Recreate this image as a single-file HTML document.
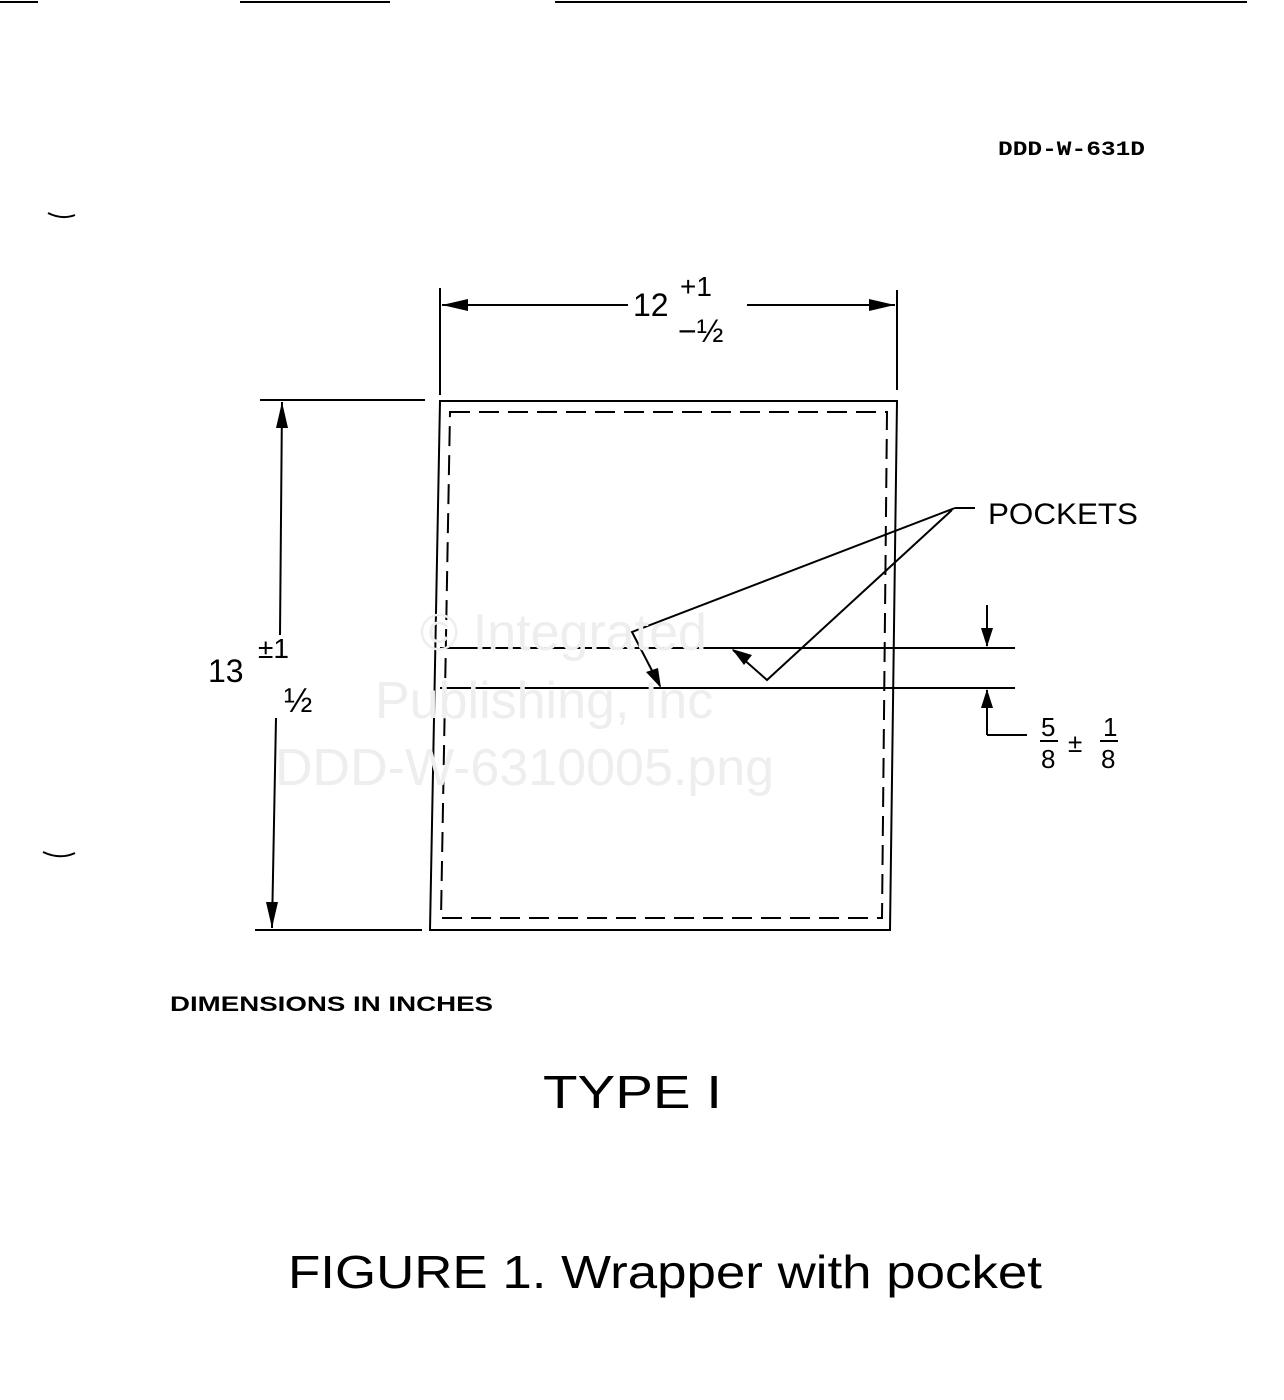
<!DOCTYPE html>
<html><head><meta charset="utf-8"><style>
html,body{margin:0;padding:0;background:#fff;}
svg{display:block;}
text{font-family:"Liberation Sans",sans-serif;fill:#000;}
</style></head><body>
<svg width="1284" height="1400" viewBox="0 0 1284 1400" xmlns="http://www.w3.org/2000/svg">
<g stroke="#000" stroke-width="2" fill="none">
<line x1="0" y1="2" x2="38" y2="2"/><line x1="240" y1="2" x2="390" y2="2"/><line x1="555" y1="2" x2="1247" y2="2"/>
<path d="M48 213 Q62 220 75 215"/><path d="M43 852 Q60 860 75 853"/>
<line x1="440" y1="288" x2="440" y2="395"/><line x1="897" y1="290" x2="897" y2="390"/>
<line x1="442" y1="305" x2="628" y2="305"/><line x1="747" y1="305" x2="895" y2="305"/>
<path d="M440 401 L897 401 L890 930 L430 930 Z"/>
<path d="M450 412 L887 412 L882 918 L441 918 Z" stroke-dasharray="20 9"/>
<line x1="260" y1="400" x2="425" y2="400"/><line x1="255" y1="930" x2="422" y2="930"/>
<line x1="282" y1="402" x2="280" y2="635"/><line x1="276" y1="718" x2="272" y2="928"/>
<line x1="440" y1="648" x2="1015" y2="648"/><line x1="440" y1="688" x2="1015" y2="688"/>
<line x1="987" y1="605" x2="987" y2="646"/>
<line x1="987" y1="690" x2="987" y2="735"/><line x1="987" y1="735" x2="1027" y2="735"/>
<polyline points="955,508 632,632 660,686"/>
<polyline points="952,510 767,680 733,650"/>
<line x1="955" y1="508" x2="975" y2="508"/>
<line x1="1040" y1="741" x2="1058" y2="741"/><line x1="1100" y1="741" x2="1118" y2="741"/>
</g>
<g fill="#000">
<polygon points="442,305 468,299 468,311"/><polygon points="895,305 869,299 869,311"/>
<polygon points="282,402 276,428 288,428"/><polygon points="272,928 266,902 278,902"/>
<polygon points="987,647 981,628 993,628"/><polygon points="987,689 981,708 993,708"/>
<polygon points="661,688 646,672 658,668"/><polygon points="732,649 752,655 744,665"/>
</g>
<text x="998" y="155" style="font-family:'Liberation Mono',monospace" font-weight="bold" font-size="20" textLength="147" lengthAdjust="spacingAndGlyphs">DDD-W-631D</text>
<text x="633" y="316" font-size="32">12</text>
<text x="680" y="296" font-size="28">+1</text>
<text x="678" y="342" font-size="32">−½</text>
<text x="208" y="682" font-size="32">13</text>
<text x="258" y="658" font-size="28">±1</text>
<text x="284" y="712" font-size="34">½</text>
<text x="988" y="524" font-size="30" textLength="150" lengthAdjust="spacingAndGlyphs">POCKETS</text>
<text x="1041" y="736" font-size="26">5</text><text x="1041" y="768" font-size="26">8</text>
<text x="1068" y="752" font-size="26">±</text>
<text x="1103" y="736" font-size="26">1</text><text x="1101" y="768" font-size="26">8</text>
<g font-size="52">
<text x="420" y="650" style="fill:#eeeeee">© Integrated</text>
<text x="375" y="718" style="fill:#eeeeee">Publishing, Inc</text>
<text x="275" y="785" style="fill:#eeeeee">DDD-W-6310005.png</text>
</g>
<text x="170" y="1011" font-size="21" font-weight="bold" textLength="323" lengthAdjust="spacingAndGlyphs">DIMENSIONS IN INCHES</text>
<text x="543" y="1108" font-size="46" textLength="179" lengthAdjust="spacingAndGlyphs">TYPE I</text>
<text x="288" y="1288" font-size="46" textLength="754" lengthAdjust="spacingAndGlyphs">FIGURE 1. Wrapper with pocket</text>
</svg>
</body></html>
